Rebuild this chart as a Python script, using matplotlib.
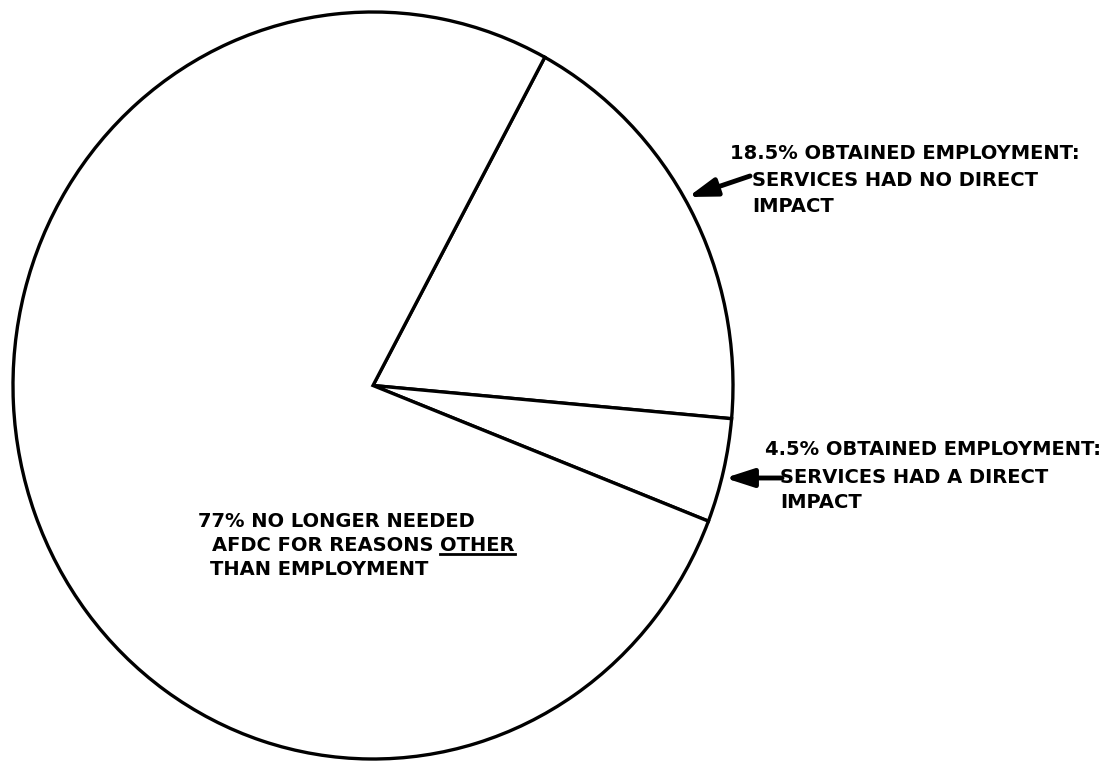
import matplotlib
matplotlib.use('Agg')
import matplotlib.pyplot as plt

# ── data ──────────────────────────────────────────────────────────────────────
shares = [18.5, 4.5, 77]
labels = [
    ['18.5% OBTAINED EMPLOYMENT:', 'SERVICES HAD NO DIRECT', 'IMPACT'],
    ['4.5% OBTAINED EMPLOYMENT:', 'SERVICES HAD A DIRECT', 'IMPACT'],
    ['77% NO LONGER NEEDED', 'AFDC FOR REASONS ', 'THAN EMPLOYMENT'],
]
emph_word = 'OTHER'

FONT = dict(family='DejaVu Sans', weight='bold', fontsize=14, color='black')
ARROW = dict(arrowstyle='-|>,head_length=1.7,head_width=0.55',
             lw=3.5, color='black', shrinkA=0, shrinkB=0)

fig = plt.figure(figsize=(11.19, 7.61), dpi=100, facecolor='white')

# pie axes: slightly taller than wide, as in the scanned original
ax = fig.add_axes([13 / 1119, 2 / 761, 720 / 1119, 747 / 761])
wedges, _ = ax.pie(shares, startangle=61.5, counterclock=False, radius=1,
                   wedgeprops=dict(facecolor='white', edgecolor='black',
                                   linewidth=2.4))
for w in wedges:
    w.set_clip_on(False)
ax.set_xlim(-1, 1)
ax.set_ylim(-1, 1)
ax.set_aspect('auto')
ax.axis('off')

# overlay in pixel coords for the labels
ov = fig.add_axes([0, 0, 1, 1], facecolor='none')
ov.set_xlim(0, 1119)
ov.set_ylim(761, 0)
ov.axis('off')

# label 1
ov.text(730, 159, labels[0][0], va='baseline', **FONT)
ov.text(752, 186, labels[0][1], va='baseline', **FONT)
ov.text(752, 212, labels[0][2], va='baseline', **FONT)
ov.annotate('', xy=(688, 197), xytext=(750, 176), arrowprops=ARROW)

# label 2
ov.text(765, 455, labels[1][0], va='baseline', **FONT)
ov.text(780, 483, labels[1][1], va='baseline', **FONT)
ov.text(780, 508, labels[1][2], va='baseline', **FONT)
ov.annotate('', xy=(725, 478), xytext=(782, 478), arrowprops=ARROW)

# label 3 with underlined word
ov.text(198, 527, labels[2][0], va='baseline', **FONT)
pre = ov.text(212, 551, labels[2][1], va='baseline', **FONT)
ov.text(210, 575, labels[2][2], va='baseline', **FONT)

fig.canvas.draw()
inv = ov.transData.inverted()
bb = pre.get_window_extent()
x_end = inv.transform((bb.x1, bb.y0))[0]
emph = ov.text(x_end, 551, emph_word, va='baseline', **FONT)
fig.canvas.draw()
eb = emph.get_window_extent()
(ex0, _), (ex1, _) = inv.transform([(eb.x0, 0), (eb.x1, 0)])
ov.plot([ex0, ex1], [554, 554], color='black', lw=2)

fig.savefig('out.png', dpi=100, facecolor='white')
